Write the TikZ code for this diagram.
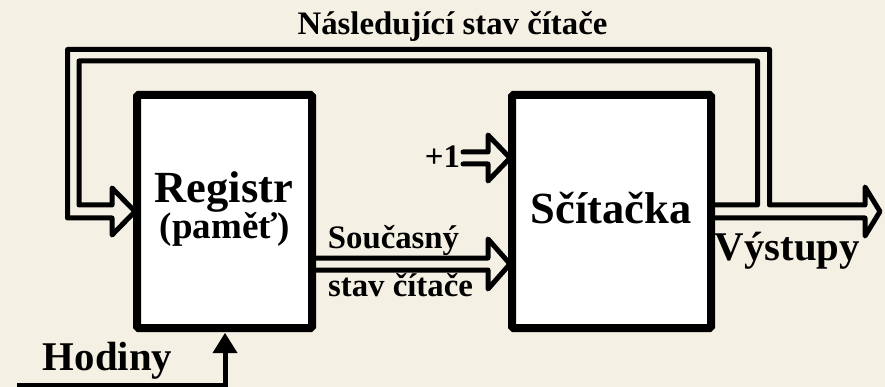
\documentclass[tikz,border=0pt]{standalone}
\usepackage{fontspec}
\setmainfont{Liberation Serif}[BoldFont={Liberation Serif Bold}, ItalicFont={Liberation Serif Italic}]
\definecolor{bg}{HTML}{F4F0E4}
\begin{document}
\begin{tikzpicture}[x=1pt,y=-1pt,
  blockbox/.style={draw=black, fill=white, line width=8pt, rounded corners=1.5pt, minimum height=233pt, inner sep=0pt, outer sep=0pt},
  hollow/.style={draw=black, line width=5pt, line join=round, line cap=round},
  clockline/.style={draw=black, line width=5pt},
  txt/.style={inner sep=0pt, anchor=base, text=black},
  small/.style={txt, font=\rmfamily\bfseries\fontsize{32.8}{36}\selectfont},
  mid/.style={txt, font=\rmfamily\bfseries\fontsize{40.8}{44}\selectfont},
  big/.style={txt, font=\rmfamily\bfseries\fontsize{44.5}{48}\selectfont}
]
\fill[bg] (0,0) rectangle (885,387);
\useasboundingbox (0,0) rectangle (885,387);

% named anchor points of the wide (hollow) connectors
\coordinate (addR) at (715,211.5);
\coordinate (regL) at (135,211.5);
\coordinate (regR) at (312,264);
\coordinate (addL) at (510,264);
\coordinate (plusin) at (510,158);
\coordinate (outtip) at (880,211.5);
\coordinate (clkstart) at (17,385);
\coordinate (regS) at (225,333);

% feedback + output hollow arrow (one outline)
\draw[hollow] (addR |- 0,205) -- (757.5,205) -- (757.5,61) -- (79,61) -- (79,205)
  -- (112,205) -- (112,188) -- (regL) -- (112,235) -- (112,218) -- (67.5,218)
  -- (67.5,49.5) -- (769.5,49.5) -- (769.5,205) -- (865,205) -- (865,187)
  -- (outtip) -- (865,236) -- (865,218) -- (addR |- 0,218);

% register -> adder hollow arrow
\draw[hollow] (regR |- 0,258) -- (488,258) -- (488,239) -- (addL) -- (488,289)
  -- (488,270) -- (regR |- 0,270);

% +1 hollow arrow
\draw[hollow] (463,152) -- (488,152) -- (488,135) -- (plusin) -- (488,181)
  -- (488,164) -- (463,164);

% clock line with filled head
\draw[clockline] (clkstart) -| (225,352);
\fill[black] (212.5,353) -- (237.5,353) -- (regS) -- cycle;

% blocks
\node[blockbox, minimum width=175pt] (reg) at (224.5,211.5) {};
\node[blockbox, minimum width=199pt] (add) at (611.5,211.5) {};

% texts
\node[small] (title) at (452.5,35) {Následující stav čítače};
\node[big] (regt) at (224,203) {Registr};
\node[txt, font=\rmfamily\bfseries\fontsize{37}{40}\selectfont] (mem) at (225,239) {(paměť)};
\node[big] (addt) at (611,224) {Sčítačka};
\node[small] (cur1) at (393.5,248) {Současný};
\node[small] (cur2) at (400.5,296) {stav čítače};
\node[small] (plus) at (442.5,168) {+1};
\node[mid] (outs) at (787.5,260) {Výstupy};
\node[mid] (clk) at (107.5,370) {Hodiny};
\end{tikzpicture}
\end{document}
